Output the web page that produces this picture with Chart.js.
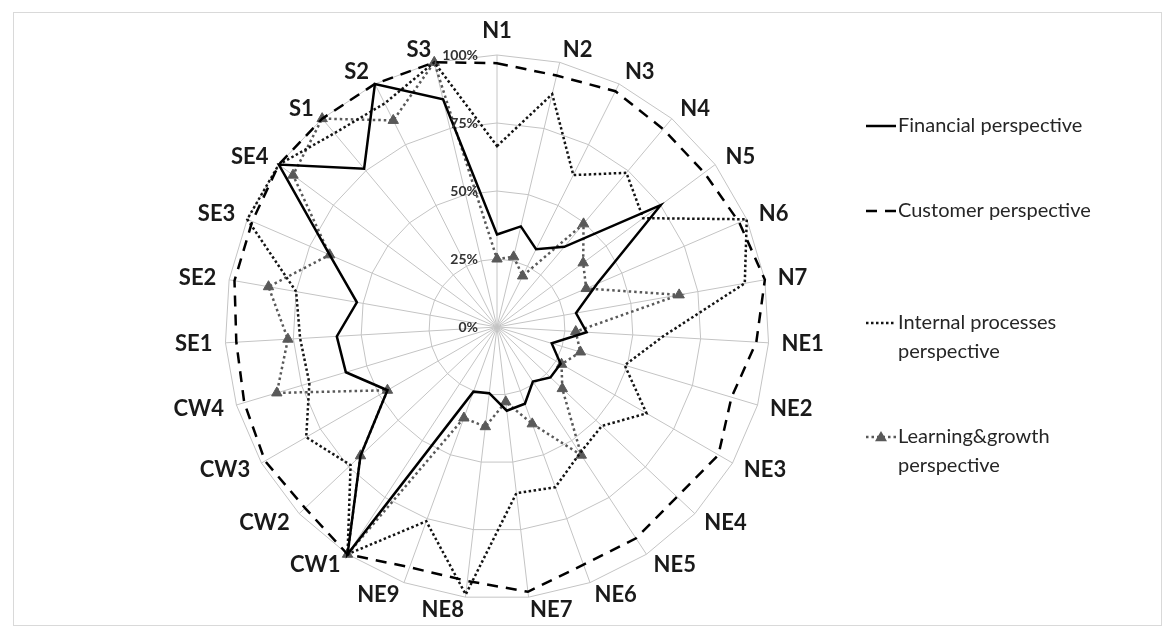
<!DOCTYPE html>
<html>
<head>
<meta charset="utf-8">
<script src="https://cdn.jsdelivr.net/npm/chart.js@4.4.1/dist/chart.umd.min.js"></script>
<style>
  html, body { margin: 0; padding: 0; background: #fff; }
  #frame { position: absolute; left: 13px; top: 12px; width: 1147px; height: 612px; border: 1px solid #d9d9d9; }
  #myChart { position: absolute; left: 0; top: 0; }
</style>
</head>
<body>
<div id="frame"></div>
<canvas id="myChart" width="1169" height="630"></canvas>
<script>
// categories, clockwise from the top
const labels = ['N1','N2','N3','N4','N5','N6','N7',
  'NE1','NE2','NE3','NE4','NE5','NE6','NE7','NE8','NE9',
  'CW1','CW2','CW3','CW4','SE1','SE2','SE3','SE4','S1','S2','S3'];

// values in %
const financial = [34,38,32,38.5,75,40,29.5,33,21,27,27,24,30,31,24.5,25.3,100,69,46.5,58,59,52.3,67,100,76,100,86];
const customer  = [97,95,97,95,95,97,100,95.5,90,94,91,93,93,98,94,94,100,97,98.5,97,96,98,98,100,100,100,100];
const internal  = [66.5,88,62.5,74,67,100,92.5,61,49,63.5,53,55.5,62.7,61.5,99,76,100,74,81,72,72.5,75,100,100,93,92,100];
const learning  = [25,26.5,21,49.5,39.5,35.7,68,29,32,27.4,33,56.4,37.9,27.7,36.9,35.6,100,69,46.5,84.5,77,85.3,67,93.5,100,85,100];

const tickValues = [0, 25, 50, 75, 100];
const legendNames = [
  ['Financial perspective'],
  ['Customer perspective'],
  ['Internal processes', 'perspective'],
  ['Learning&growth', 'perspective']
];

// category names around the web, vertically centred like the original
const axisLabels = {
  id: 'axisLabels',
  afterDraw(chart) {
    const r = chart.scales.r;
    const ctx = chart.ctx;
    ctx.save();
    ctx.font = 'bold 22px Lato';
    ctx.fillStyle = '#1a1a1a';
    chart.data.labels.forEach((text, i) => {
      const p = r.getPointPosition(i, r.drawingArea + 13);
      const deg = Math.round(((r.getIndexAngle(i) * 180 / Math.PI) % 360 + 360) % 360);
      ctx.textAlign = (deg === 0 || deg === 180) ? 'center' : (deg < 180 ? 'left' : 'right');
      ctx.textBaseline = deg === 0 ? 'bottom' : (deg === 180 ? 'top' : 'middle');
      ctx.fillText(text, p.x, p.y);
    });
    ctx.restore();
  }
};

// percent labels to the left of the N1 axis
const tickLabels = {
  id: 'tickLabels',
  afterDraw(chart) {
    const r = chart.scales.r;
    const ctx = chart.ctx;
    ctx.save();
    ctx.font = 'bold 14px Lato';
    ctx.fillStyle = '#333333';
    ctx.textAlign = 'right';
    ctx.textBaseline = 'middle';
    tickValues.forEach(v => {
      const y = r.yCenter - r.getDistanceFromCenterForValue(v);
      ctx.fillText(v + '%', r.xCenter - 19, y);
    });
    ctx.restore();
  }
};

// legend on the right, one row per series
const sideLegend = {
  id: 'sideLegend',
  afterDraw(chart) {
    const ctx = chart.ctx;
    const rows = [126, 211, 323, 437];
    chart.data.datasets.forEach((ds, i) => {
      const y = rows[i];
      ctx.save();
      ctx.strokeStyle = ds.borderColor;
      ctx.lineWidth = ds.borderWidth;
      ctx.setLineDash(ds.borderDash || []);
      ctx.beginPath();
      ctx.moveTo(866, y);
      ctx.lineTo(896, y);
      ctx.stroke();
      if (ds.pointRadius > 0) {
        const s = 6;
        ctx.setLineDash([]);
        ctx.fillStyle = ds.pointBackgroundColor;
        ctx.beginPath();
        ctx.moveTo(881, y - s);
        ctx.lineTo(881 + s, y + s * 0.7);
        ctx.lineTo(881 - s, y + s * 0.7);
        ctx.closePath();
        ctx.fill();
      }
      ctx.fillStyle = '#262626';
      ctx.font = '20px Lato';
      ctx.textAlign = 'left';
      ctx.textBaseline = 'middle';
      legendNames[i].forEach((line, k) => {
        ctx.fillText(line, 898, y + k * 29);
      });
      ctx.restore();
    });
  }
};

new Chart(document.getElementById('myChart'), {
  type: 'radar',
  data: {
    labels: labels,
    datasets: [{
      label: 'Financial perspective',
      data: financial,
      borderColor: '#000000',
      borderWidth: 2.5,
      pointRadius: 0,
      fill: false
    }, {
      label: 'Customer perspective',
      data: customer,
      borderColor: '#000000',
      borderWidth: 2.5,
      borderDash: [11, 8],
      pointRadius: 0,
      fill: false
    }, {
      label: 'Internal processes perspective',
      data: internal,
      borderColor: '#141414',
      borderWidth: 2.5,
      borderDash: [2.5, 2.5],
      pointRadius: 0,
      fill: false
    }, {
      label: 'Learning&growth perspective',
      data: learning,
      borderColor: '#595959',
      borderWidth: 2.5,
      borderDash: [2.5, 3],
      pointStyle: 'triangle',
      pointRadius: 6,
      pointBackgroundColor: '#595959',
      pointBorderColor: '#595959',
      pointBorderWidth: 1,
      fill: false
    }]
  },
  options: {
    responsive: false,
    animation: false,
    layout: { padding: { left: 100, right: 275, top: 55, bottom: 31 } },
    elements: { line: { tension: 0 } },
    plugins: {
      legend: { display: false },
      tooltip: { enabled: false }
    },
    scales: {
      r: {
        min: 0,
        max: 100,
        ticks: { stepSize: 25, display: false },
        grid: { circular: false, color: '#c4c4c4', lineWidth: 1 },
        angleLines: { color: '#c4c4c4', lineWidth: 1 },
        pointLabels: { display: false }
      }
    }
  },
  plugins: [axisLabels, tickLabels, sideLegend]
});
</script>
</body>
</html>
